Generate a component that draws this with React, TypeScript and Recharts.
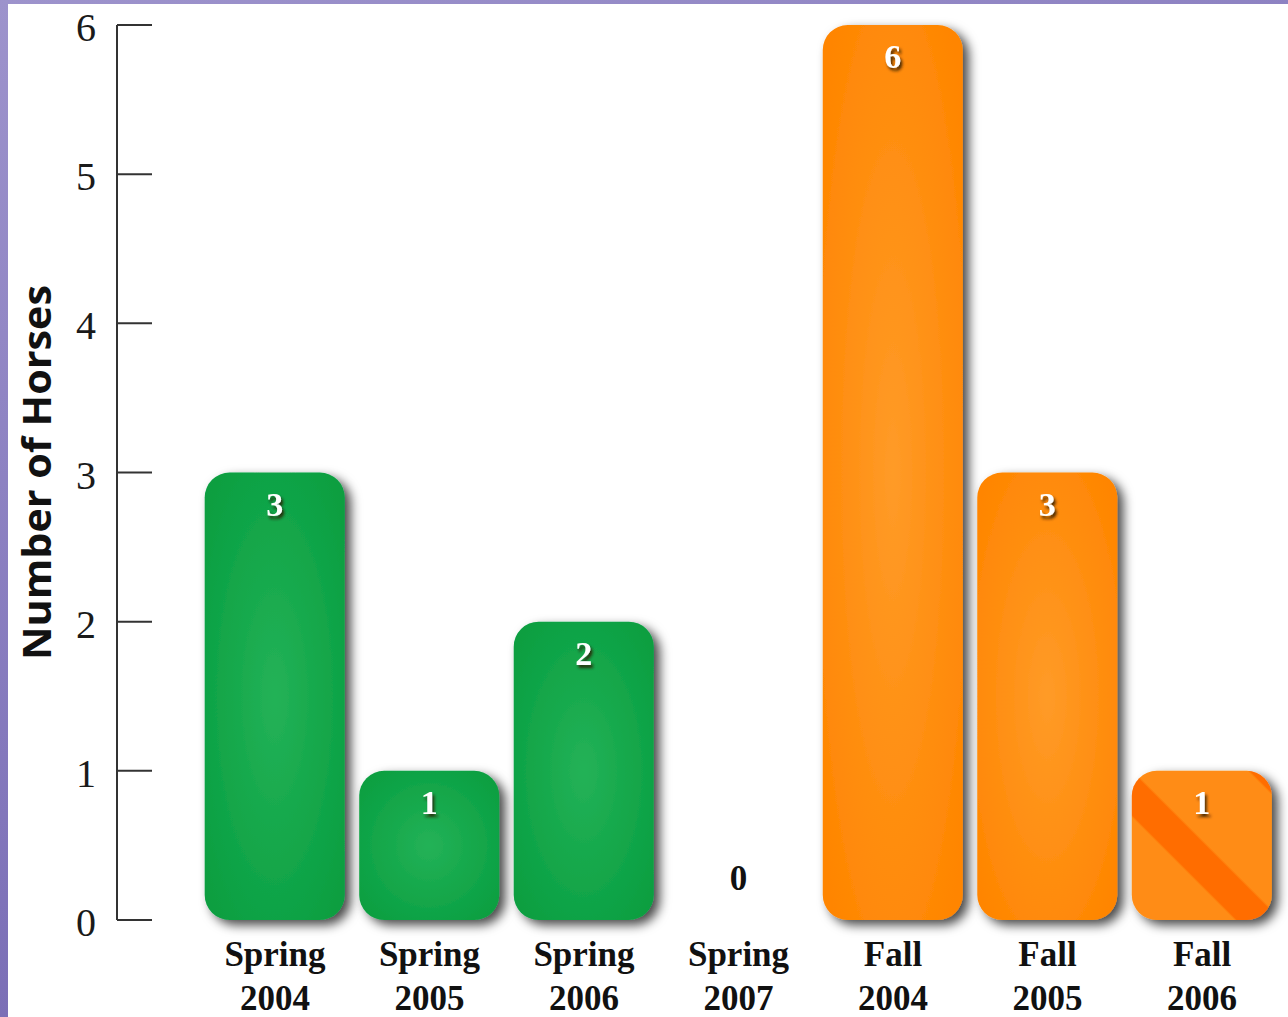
import React from 'react';
import { BarChart, Bar, XAxis, YAxis, Cell, LabelList } from 'recharts';

const seasons = ['Spring', 'Spring', 'Spring', 'Spring', 'Fall', 'Fall', 'Fall'];
const years = ['2004', '2005', '2006', '2007', '2004', '2005', '2006'];
const horses = [3, 1, 2, 0, 6, 3, 1];
const yTicks = [0, 1, 2, 3, 4, 5, 6];

const data = seasons.map((season, i) => ({
  name: `${season} ${years[i]}`,
  season,
  horses: horses[i],
}));

const serif = '"Liberation Serif", "DejaVu Serif", serif';

const YTick = ({ x, y, payload }: any) => (
  <g>
    <line x1={x} x2={x + 35} y1={y} y2={y} stroke="#333" strokeWidth={2} />
    <text x={x - 31} y={y} dy={16} textAnchor="middle" fontFamily={serif} fontSize={40} fill="#1a1a1a">
      {payload.value}
    </text>
  </g>
);

// category label in two lines; a zero bar has no body, so its value is written here above the base
const XTick = ({ x, y, payload, index }: any) => {
  const [season, year] = String(payload.value).split(' ');
  const v = data[index]?.horses;
  return (
    <g fontFamily={serif} fontWeight="bold" fill="#111" textAnchor="middle">
      {v === 0 && (
        <text x={x} y={y - 30} fontSize={35}>
          {v}
        </text>
      )}
      <text x={x} y={y + 46} fontSize={35}>{season}</text>
      <text x={x} y={y + 90} fontSize={35}>{year}</text>
    </g>
  );
};

const ValueLabel = ({ x, y, width, value }: any) => {
  if (!value) return null;
  return (
    <text
      x={x + width / 2}
      y={y + 43}
      textAnchor="middle"
      fontFamily={serif}
      fontWeight="bold"
      fontSize={34}
      fill="#fff"
      filter="url(#textShadow)"
    >
      {value}
    </text>
  );
};

const AxisTitle = ({ viewBox }: any) => {
  const { x, y, height } = viewBox;
  return (
    <text
      transform={`translate(${x + 27}, ${y + height / 2}) rotate(-90)`}
      textAnchor="middle"
      dominantBaseline="central"
      fontFamily='"Open Sans", sans-serif'
      fontWeight="bold"
      fontSize={39}
      textLength={375}
      lengthAdjust="spacingAndGlyphs"
      fill="#111"
    >
      Number of Horses
    </text>
  );
};

export default function App() {
  return (
    <div
      style={{
        position: 'absolute',
        left: 0,
        top: 0,
        width: 1288,
        height: 1017,
        background: 'linear-gradient(160deg, #9d93cc 0%, #8276bb 55%, #6b5eab 100%)',
      }}
    >
      <div style={{ position: 'absolute', left: 8, top: 4, width: 1280, height: 1013, background: '#fff' }}>
        <BarChart width={1280} height={1013} data={data} margin={{ top: 21, right: 8.7, left: 0, bottom: 0 }}>
          <defs>
            <radialGradient id="greenFill" cx="50%" cy="50%" r="65%">
              <stop offset="0%" stopColor="#24b257" />
              <stop offset="100%" stopColor="#079e40" />
            </radialGradient>
            <radialGradient id="orangeFill" cx="50%" cy="50%" r="65%">
              <stop offset="0%" stopColor="#ff9b28" />
              <stop offset="100%" stopColor="#ff8500" />
            </radialGradient>
            <pattern
              id="stripes"
              patternUnits="userSpaceOnUse"
              width={114.6}
              height={114.6}
              patternTransform="rotate(-45)"
            >
              <rect x={0} y={0} width={114.6} height={114.6} fill="#ff8c12" />
              <rect x={106} y={0} width={32} height={114.6} fill="#ff6d00" />
              <rect x={-8.6} y={0} width={32} height={114.6} fill="#ff6d00" />
            </pattern>
            <filter id="barShadow" x="-20%" y="-20%" width="150%" height="150%">
              <feDropShadow dx={6} dy={5} stdDeviation={5.5} floodColor="#000" floodOpacity={0.72} />
            </filter>
            <filter id="textShadow" x="-50%" y="-50%" width="200%" height="200%">
              <feDropShadow dx={2} dy={3} stdDeviation={1.6} floodColor="#2a1800" floodOpacity={0.85} />
            </filter>
          </defs>
          <XAxis
            dataKey="name"
            axisLine={false}
            tickLine={false}
            tickSize={0}
            tickMargin={0}
            height={97}
            padding={{ left: 80.7, right: 0 }}
            interval={0}
            tick={<XTick />}
          />
          <YAxis
            width={109}
            domain={[0, 6]}
            ticks={yTicks}
            interval={0}
            axisLine={{ stroke: '#333', strokeWidth: 2 }}
            tickLine={false}
            tickSize={0}
            tickMargin={0}
            tick={<YTick />}
            label={<AxisTitle />}
          />
          <Bar dataKey="horses" barSize={140} radius={25} isAnimationActive={false}>
            {data.map((d, i) => (
              <Cell
                key={d.name}
                fill={i === data.length - 1 ? 'url(#stripes)' : d.season === 'Spring' ? 'url(#greenFill)' : 'url(#orangeFill)'}
                filter="url(#barShadow)"
              />
            ))}
            <LabelList dataKey="horses" content={<ValueLabel />} />
          </Bar>
        </BarChart>
      </div>
    </div>
  );
}
